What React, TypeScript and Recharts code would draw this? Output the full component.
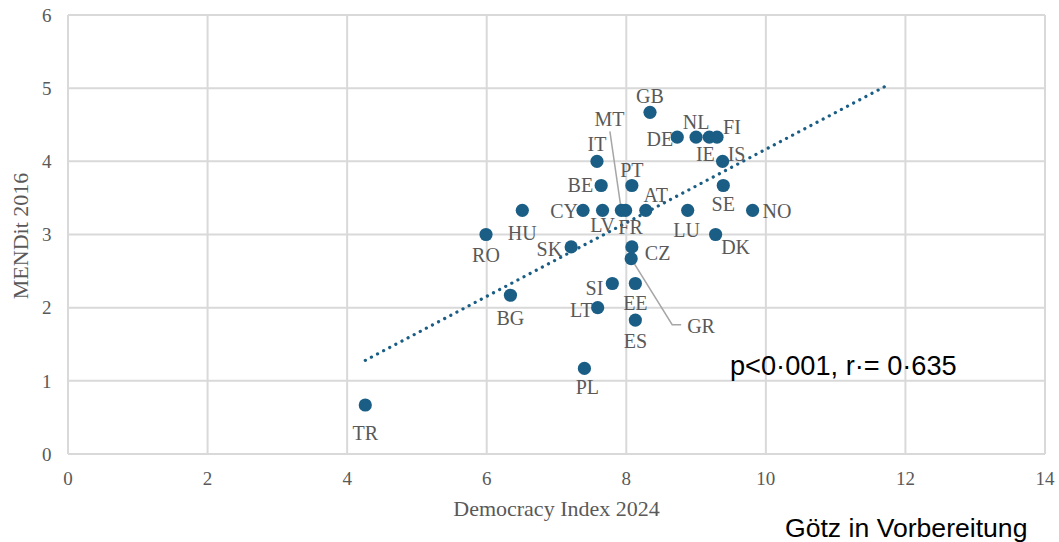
import React from 'react';
import { ScatterChart, Scatter, XAxis, YAxis, CartesianGrid } from 'recharts';

const countryCodes = ['GB', 'DE', 'NL', 'IE', 'FI', 'IT', 'IS', 'BE', 'PT', 'SE', 'HU', 'CY', 'LV', 'MT', 'FR', 'AT', 'LU', 'NO', 'RO', 'DK', 'SK', 'CZ', 'GR', 'SI', 'EE', 'BG', 'LT', 'ES', 'PL', 'TR'];
const democracyIndex2024 = [8.34, 8.73, 9.0, 9.19, 9.3, 7.58, 9.38, 7.64, 8.08, 9.39, 6.51, 7.38, 7.66, 7.93, 7.99, 8.28, 8.88, 9.81, 5.99, 9.28, 7.21, 8.08, 8.07, 7.8, 8.13, 6.34, 7.59, 8.13, 7.4, 4.26];
const mendit2016 = [4.67, 4.33, 4.33, 4.33, 4.33, 4.0, 4.0, 3.67, 3.67, 3.67, 3.33, 3.33, 3.33, 3.33, 3.33, 3.33, 3.33, 3.33, 3.0, 3.0, 2.83, 2.83, 2.67, 2.33, 2.33, 2.17, 2.0, 1.83, 1.17, 0.67];

const xTicks = [0, 2, 4, 6, 8, 10, 12, 14];
const yTicks = [0, 1, 2, 3, 4, 5, 6];

const trendX = [4.26, 11.76];
const trendY = [1.28, 5.05];

const xTitle = 'Democracy Index 2024';
const yTitle = 'MENDit 2016';
const statText = 'p<0·001, r·= 0·635';
const sourceText = 'Götz in Vorbereitung';

type Layout = { dx: number; dy: number; anchor?: 'start' | 'middle' | 'end'; leader?: number[][] };
const labelLayout: Record<string, Layout> = {
  GB: { dx: 0, dy: -16 },
  DE: { dx: -4, dy: 2, anchor: 'end' },
  NL: { dx: 0, dy: -15 },
  IE: { dx: -4, dy: 17 },
  FI: { dx: 15, dy: -10 },
  IT: { dx: 0, dy: -17 },
  IS: { dx: 14, dy: -7 },
  BE: { dx: -8, dy: 0, anchor: 'end' },
  PT: { dx: 0, dy: -15 },
  SE: { dx: 0, dy: 19 },
  HU: { dx: 0, dy: 23 },
  CY: { dx: -5, dy: 1, anchor: 'end' },
  LV: { dx: 0, dy: 15 },
  MT: { dx: -12, dy: -91, leader: [[-11.5, -79], [-0.5, -3]] },
  FR: { dx: 5, dy: 17 },
  AT: { dx: 10, dy: -15 },
  LU: { dx: -1, dy: 20 },
  NO: { dx: 10, dy: 1, anchor: 'start' },
  RO: { dx: 0, dy: 20 },
  DK: { dx: 20, dy: 12 },
  SK: { dx: -9, dy: 2, anchor: 'end' },
  CZ: { dx: 13, dy: 6, anchor: 'start' },
  GR: { dx: 56, dy: 67, anchor: 'start', leader: [[0, 0], [41, 66], [50, 66]] },
  SI: { dx: -9, dy: 4, anchor: 'end' },
  EE: { dx: 0, dy: 19 },
  BG: { dx: 0, dy: 23 },
  LT: { dx: -5, dy: 2, anchor: 'end' },
  ES: { dx: 0, dy: 21 },
  PL: { dx: 3, dy: 19 },
  TR: { dx: 0, dy: 28 },
};

const points = countryCodes.map((code, i) => ({ code, x: democracyIndex2024[i], y: mendit2016[i] }));
const trend = trendX.map((x, i) => ({ x, y: trendY[i] }));

const DOT = '#1b5e85';
const GREY_TEXT = '#595959';
const SERIF = "'Liberation Serif', 'Times New Roman', serif";
const SANS = "'Liberation Sans', Arial, sans-serif";

const LabelShape = (props: any) => {
  const { cx, cy, payload } = props;
  const l = labelLayout[payload.code] || { dx: 0, dy: 18 };
  return (
    <g>
      {l.leader && (
        <polyline
          points={l.leader.map(([a, b]) => `${cx + a},${cy + b}`).join(' ')}
          fill="none"
          stroke="#a6a6a6"
          strokeWidth={1.5}
        />
      )}
      <text
        x={cx + l.dx}
        y={cy + l.dy}
        textAnchor={l.anchor || 'middle'}
        dominantBaseline="central"
        fontFamily={SERIF}
        fontSize={20}
        fill={GREY_TEXT}
      >
        {payload.code}
      </text>
    </g>
  );
};

const DotShape = (props: any) => {
  const { cx, cy } = props;
  return <circle cx={cx} cy={cy} r={6.6} fill={DOT} />;
};

const NoShape = () => <g />;

const XTitle = () => (
  <text x={556.5} y={516} textAnchor="middle" fontFamily={SERIF} fontSize={22} fill={GREY_TEXT}>
    {xTitle}
  </text>
);

const YTitle = () => (
  <text transform="translate(28,236) rotate(-90)" textAnchor="middle" fontFamily={SERIF} fontSize={22} fill={GREY_TEXT}>
    {yTitle}
  </text>
);

const tickStyle = { fill: GREY_TEXT, fontFamily: SERIF, fontSize: 19 };

export default function App() {
  return (
    <div style={{ position: 'absolute', left: 0, top: 0, width: 1059, height: 542, background: '#fff' }}>
      <ScatterChart width={1059} height={542} margin={{ top: 15, right: 14, bottom: 58, left: 0 }}>
        <CartesianGrid stroke="#d9d9d9" strokeWidth={2} />
        <XAxis
          type="number"
          dataKey="x"
          domain={[0, 14]}
          ticks={xTicks}
          interval={0}
          height={30}
          axisLine={false}
          tickLine={false}
          tickSize={0}
          tickMargin={17.5}
          tick={tickStyle}
          label={XTitle}
          allowDataOverflow
        />
        <YAxis
          type="number"
          dataKey="y"
          domain={[0, 6]}
          ticks={yTicks}
          interval={0}
          width={68}
          axisLine={false}
          tickLine={false}
          tickSize={0}
          tickMargin={16.5}
          tick={tickStyle}
          label={YTitle}
          allowDataOverflow
        />
        <Scatter
          data={trend}
          isAnimationActive={false}
          shape={NoShape}
          line={{ stroke: DOT, strokeWidth: 3.2, strokeDasharray: '0.1 6.8', strokeLinecap: 'round' }}
          lineType="joint"
        />
        <Scatter data={points} isAnimationActive={false} shape={LabelShape} />
        <Scatter data={points} isAnimationActive={false} shape={DotShape} />
      </ScatterChart>
      <svg width={1059} height={542} style={{ position: 'absolute', left: 0, top: 0, pointerEvents: 'none' }}>
        <text x={730} y={374.5} fontFamily={SANS} fontSize={27.2} fill="#000">
          {statText}
        </text>
        <text x={785} y={537} fontFamily={SANS} fontSize={26.6} fill="#000">
          {sourceText}
        </text>
      </svg>
    </div>
  );
}
